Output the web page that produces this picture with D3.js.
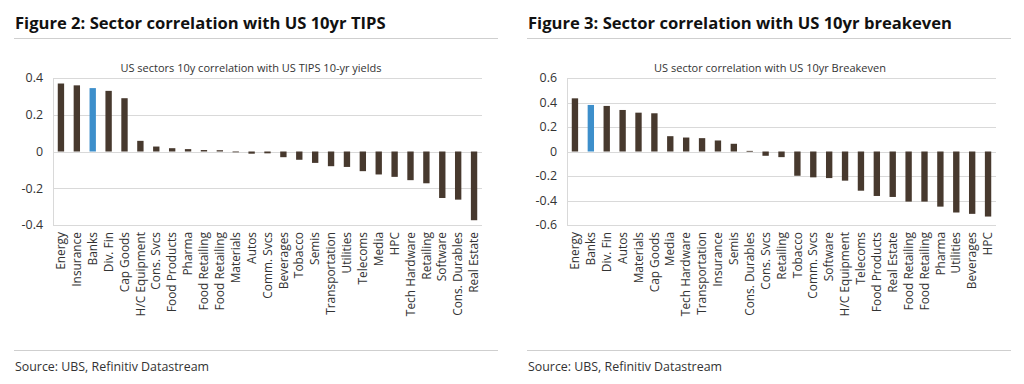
<!DOCTYPE html>
<html><head><meta charset="utf-8">
<script src="https://cdn.jsdelivr.net/npm/d3@7"></script>
<style>body{margin:0;background:#fff}svg{display:block}</style>
</head><body><svg id="c" width="1024" height="384"></svg>
<script>
// ---- Data ----
const tipsCategories = ["Energy","Insurance","Banks","Div. Fin","Cap Goods","H/C Equipment","Cons. Svcs","Food Products","Pharma","Food Retailing","Food Retailing","Materials","Autos","Comm. Svcs","Beverages","Tobacco","Semis","Transportation","Utilities","Telecoms","Media","HPC","Tech Hardware","Retailing","Software","Cons. Durables","Real Estate"];
const tipsValues = [0.37,0.36,0.345,0.33,0.29,0.058,0.027,0.018,0.013,0.008,0.007,-0.003,-0.012,-0.01,-0.031,-0.045,-0.062,-0.08,-0.084,-0.107,-0.125,-0.138,-0.156,-0.173,-0.253,-0.262,-0.374];
const tipsTicks = [0.4,0.2,0,-0.2,-0.4];
const tipsTickLabels = ["0.4","0.2","0","-0.2","-0.4"];

const beCategories = ["Energy","Banks","Div. Fin","Autos","Materials","Cap Goods","Media","Tech Hardware","Transportation","Insurance","Semis","Cons. Durables","Cons. Svcs","Retailing","Tobacco","Comm. Svcs","Software","H/C Equipment","Telecoms","Food Products","Real Estate","Food Retailing","Food Retailing","Pharma","Utilities","Beverages","HPC"];
const beValues = [0.434,0.38,0.372,0.339,0.317,0.312,0.125,0.114,0.109,0.09,0.063,0.005,-0.035,-0.046,-0.198,-0.211,-0.217,-0.238,-0.32,-0.363,-0.371,-0.409,-0.409,-0.45,-0.498,-0.509,-0.531];
const beTicks = [0.6,0.4,0.2,0,-0.2,-0.4,-0.6];
const beTickLabels = ["0.6","0.4","0.2","0","-0.2","-0.4","-0.6"];

const highlight = "Banks";
const titles = ["Figure 2: Sector correlation with US 10yr TIPS","Figure 3: Sector correlation with US 10yr breakeven"];
const subtitles = ["US sectors 10y correlation with US TIPS 10-yr yields","US sector correlation with US 10yr Breakeven"];
const sourceText = "Source: UBS, Refinitiv Datastream";

// ---- Drawing ----
const svg = d3.select("#c");
const BROWN = "#47392e", BLUE = "#3d8fcb", GRID = "#d9d9d9", TEXT = "#333";
const FONT = "'Open Sans', sans-serif";

function panel(opt){
  const g = svg.append("g");
  g.append("text").attr("x", opt.x0+1).attr("y", 28.5)
    .attr("font-family", FONT).attr("font-weight", 700).attr("font-size", 16.6)
    .attr("fill", "#111").text(opt.title);
  g.append("line").attr("x1", opt.x0).attr("x2", opt.x1).attr("y1", 38.5).attr("y2", 38.5)
    .attr("stroke", "#cfcfcf");
  g.append("line").attr("x1", opt.x0).attr("x2", opt.x1).attr("y1", 350.5).attr("y2", 350.5)
    .attr("stroke", "#cfcfcf");
  g.append("text").attr("x", opt.x0+1).attr("y", 371)
    .attr("font-family", FONT).attr("font-size", 12.4).attr("fill", TEXT).text(sourceText);

  const y = d3.scaleLinear().domain(opt.domain).range([225, 78]);
  const x = d3.scaleBand().domain(d3.range(opt.cats.length)).range([opt.pl, opt.pr]).paddingInner(0.6).paddingOuter(0.3);

  g.append("text").attr("x", opt.subX).attr("y", 72).attr("text-anchor","middle")
    .attr("font-family", FONT).attr("font-size", 11).attr("fill", TEXT).text(opt.subtitle);

  // gridlines
  g.append("g").selectAll("line").data(opt.ticks).join("line")
    .attr("x1", opt.pl).attr("x2", opt.pr)
    .attr("y1", d => Math.round(y(d))+0.5).attr("y2", d => Math.round(y(d))+0.5)
    .attr("stroke", GRID);
  g.append("line").attr("x1", opt.pl+0.5).attr("x2", opt.pl+0.5).attr("y1", y(opt.domain[1])).attr("y2", y(opt.domain[0]))
    .attr("stroke", GRID);

  // y axis labels
  const yAxis = d3.axisLeft(y).tickValues(opt.ticks).tickFormat((d,i)=>opt.tickLabels[i]).tickSize(0).tickPadding(10);
  const ya = g.append("g").attr("transform", `translate(${opt.pl},0)`).call(yAxis);
  ya.select(".domain").remove();
  ya.selectAll("text").attr("font-family", FONT).attr("font-size", 12.4).attr("fill", TEXT);

  // bars
  g.append("g").selectAll("rect").data(opt.vals).join("rect")
    .attr("x", (d,i)=>x(i)).attr("width", x.bandwidth())
    .attr("y", d => y(Math.max(0,d))).attr("height", d => Math.max(0.8, Math.abs(y(d)-y(0))))
    .attr("fill", (d,i)=> opt.cats[i]===highlight ? BLUE : BROWN);

  // x labels
  const xAxis = d3.axisBottom(x).tickFormat(i=>opt.cats[i]).tickSize(0).tickPadding(0);
  const xa = g.append("g").attr("transform", `translate(0,${y(opt.domain[0])})`).call(xAxis);
  xa.select(".domain").remove();
  xa.selectAll("text").attr("font-family", FONT).attr("font-size", 11.9).attr("fill", TEXT)
    .attr("text-anchor","end").attr("dy", "0.35em")
    .attr("transform", "translate(0,7) rotate(-90)").attr("x",0).attr("y",0);
}

panel({x0:14, x1:498, pl:53, pr:482, domain:[-0.4,0.4], cats:tipsCategories, vals:tipsValues,
  ticks:tipsTicks, tickLabels:tipsTickLabels, title:titles[0], subtitle:subtitles[0], subX:251});
panel({x0:527, x1:1011, pl:567, pr:996, domain:[-0.6,0.6], cats:beCategories, vals:beValues,
  ticks:beTicks, tickLabels:beTickLabels, title:titles[1], subtitle:subtitles[1], subX:770});
</script></body></html>
